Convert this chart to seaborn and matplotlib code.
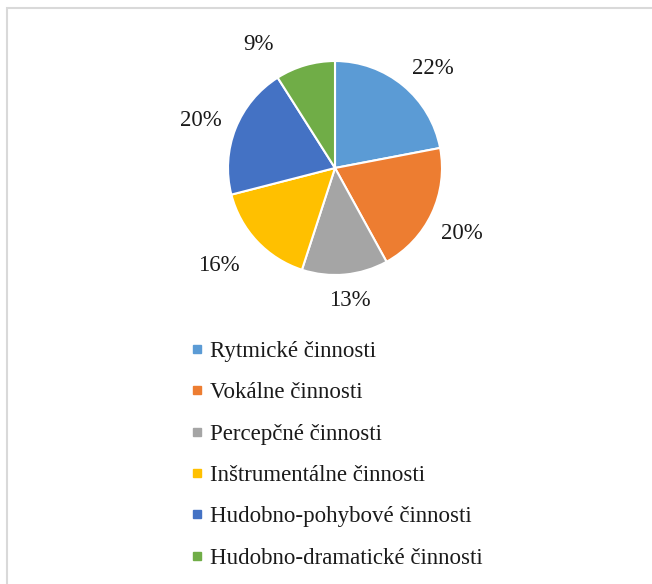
import matplotlib
matplotlib.use("Agg")
import matplotlib.pyplot as plt
from matplotlib.lines import Line2D
from matplotlib.patches import Rectangle
import numpy as np
import seaborn as sns

categories = ["Rytmické činnosti", "Vokálne činnosti", "Percepčné činnosti",
              "Inštrumentálne činnosti", "Hudobno-pohybové činnosti",
              "Hudobno-dramatické činnosti"]
values = [22, 20, 13, 16, 20, 9]
colors_hex = ["#5B9BD5", "#ED7D31", "#A5A5A5", "#FFC000", "#4472C4", "#70AD47"]

# label placement style (radius in pie radii, angular nudge in degrees, clockwise)
label_radius = [1.32, 1.32, 1.22, 1.40, 1.34, 1.38]
label_nudge = [4, 1, -1, 4, -1, -15]
label_drop = 0.026

sns.set_theme(style="white")
plt.rcParams['font.family'] = ['Liberation Serif', 'DejaVu Serif']

W, H = 652, 584
fig = plt.figure(figsize=(W / 100, H / 100), dpi=100)
fig.patch.set_facecolor("white")

# border
fig.patches.append(Rectangle((7 / W, -0.1), 1.2, 1.1 - 8 / H,
                             transform=fig.transFigure, fill=False,
                             edgecolor="#d9d9d9", linewidth=1.5))

cx, cy, r = 335, 168, 107
ax = fig.add_axes([(cx - r) / W, (H - cy - r) / H, 2 * r / W, 2 * r / H])
palette = sns.color_palette(colors_hex)
wedges, texts, autotexts = ax.pie(
    values, colors=palette, startangle=90, counterclock=False,
    autopct=lambda p: f"{p:.0f}%", pctdistance=1.3,
    wedgeprops=dict(edgecolor="white", linewidth=1.5),
    textprops=dict(fontsize=16.5, color="#1a1a1a"))

total = float(sum(values))
cum = np.cumsum([0] + values[:-1])
for t, v, c0, rad, nd in zip(autotexts, values, cum, label_radius, label_nudge):
    ang = np.deg2rad((c0 + v / 2) / total * 360 + nd)  # clockwise from top
    t.set_position((rad * np.sin(ang), rad * np.cos(ang) - label_drop))

ax.set_xlim(-1, 1)
ax.set_ylim(-1, 1)
ax.set_aspect("equal")
ax.axis("off")

handles = [Line2D([], [], marker="s", linestyle="none", markersize=5.5,
                  markerfacecolor=c, markeredgecolor=c) for c in palette]
fig.legend(handles, categories, loc="upper left",
           bbox_to_anchor=(190 / W, 1 - 341 / H), frameon=False,
           fontsize=16.5, labelspacing=0.885, handlelength=0.6,
           handletextpad=0.28, borderpad=0, borderaxespad=0,
           labelcolor="#1a1a1a")

fig.savefig("out.png", dpi=100)
